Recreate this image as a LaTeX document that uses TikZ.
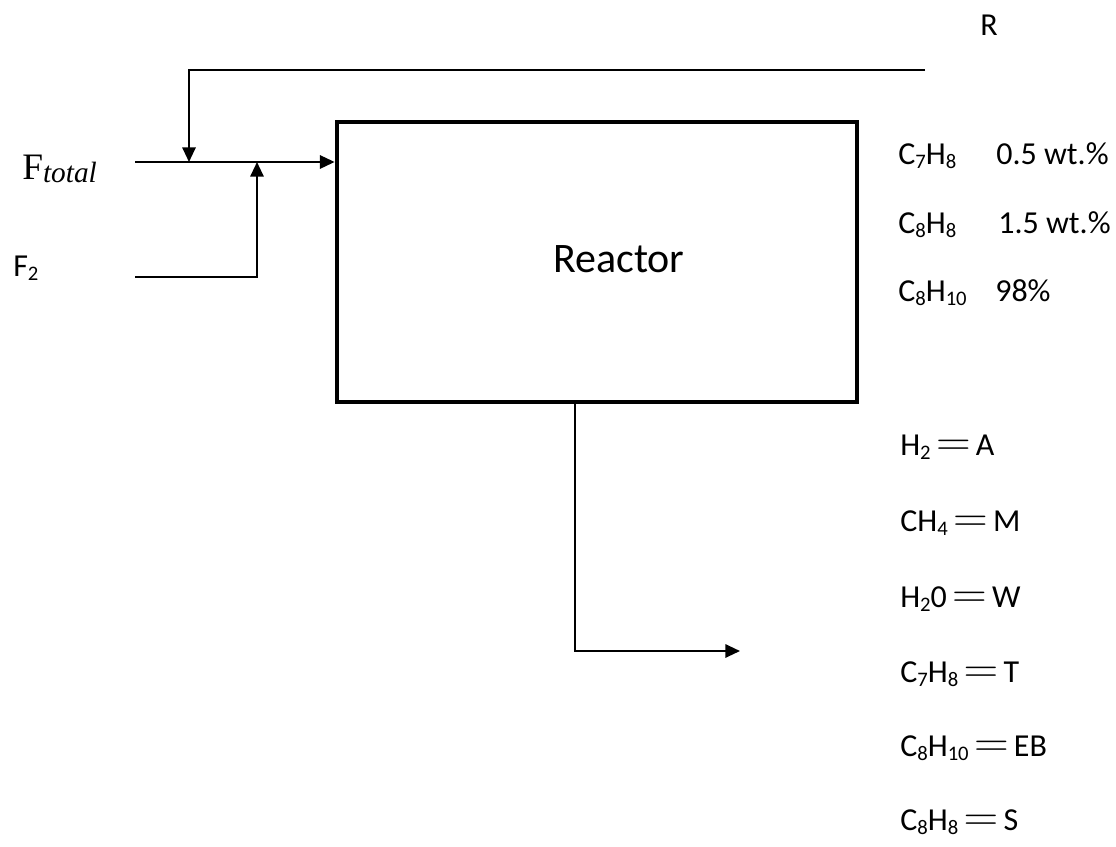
\documentclass[tikz,border=0pt]{standalone}
\usepackage{fontspec}
\setmainfont{Carlito}
\newfontfamily\serifmath{Liberation Serif}
\usepackage{tikz}
\usetikzlibrary{
  arrows.meta,
  positioning,
  calc
}
\definecolor{linecolor}{RGB}{0, 0, 0}
\definecolor{labelcolor}{RGB}{0, 0, 0}
\newcommand{\chs}[1]{\raisebox{-0.3ex}{\fontsize{15.5}{16}\selectfont #1}}
\newcommand{\eqs}{\,\scalebox{1.45}[1.3]{$=$}\,}
\tikzset{
reactorbox/.style={
  draw=linecolor,
  line width=3.6pt,
  minimum width=390pt,
  minimum height=210pt,
  inner sep=0pt
},
streamlabel/.style={
  font=\fontsize{24}{28}\selectfont,
  text=labelcolor,
  anchor=base west,
  inner sep=0pt
},
stream/.style={
  line width=1.5pt,
  draw=linecolor
},
arrow/.style={
  stream,
  -{Triangle[length=11pt,width=10pt]}
}
}

\begin{document}
\begin{tikzpicture}[x=0.75pt, y=-0.75pt]
\useasboundingbox (0,0) rectangle (1116,846);

% ============================================================================
% REACTOR
% ============================================================================
\node[reactorbox] (reactor) at (597,262) {};
\node[streamlabel, font=\fontsize{31.5}{36}\selectfont] (rlabel) at (553,272) {Reactor};

% ============================================================================
% ENTRADAS
% ============================================================================
\coordinate (feedin) at (135,162);
\coordinate (feedmix) at (189,162);
\coordinate (f2mix) at (257,162);
\coordinate (f2in) at (135,277);
\coordinate (recin) at (925,70);

\node[streamlabel, font=\fontsize{28}{32}\selectfont\serifmath] (ftotal) at (22,179)
  {F\raisebox{-0.2ex}{\fontsize{22}{24}\selectfont\itshape total}};
\node[streamlabel] (f2) at (13,276) {F\chs{2}};
\node[streamlabel] (rec) at (980,36) {R};

% ============================================================================
% SAIDA
% ============================================================================
\coordinate (outdown) at (575,651);
\coordinate (outend) at (740,651);

% ============================================================================
% COMPOSICAO
% ============================================================================
\node[streamlabel] (comp1) at (898,164) {C\chs{7}H\chs{8}};
\node[streamlabel] (val1) at (996,164) {0.5 wt.\%};
\node[streamlabel] (comp2) at (898,233) {C\chs{8}H\chs{8}};
\node[streamlabel] (val2) at (998,233) {1.5 wt.\%};
\node[streamlabel] (comp3) at (898,301) {C\chs{8}H\chs{10}};
\node[streamlabel] (val3) at (995,301) {98\%};

\node[streamlabel] (spA) at (900,455) {H\chs{2}\eqs A};
\node[streamlabel] (spM) at (900,531) {CH\chs{4}\eqs M};
\node[streamlabel] (spW) at (900,607) {H\chs{2}0\eqs W};
\node[streamlabel] (spT) at (900,682) {C\chs{7}H\chs{8}\eqs T};
\node[streamlabel] (spEB) at (900,756) {C\chs{8}H\chs{10}\eqs EB};
\node[streamlabel] (spS) at (900,830) {C\chs{8}H\chs{8}\eqs S};

% ============================================================================
% SETAS
% ============================================================================
\draw[arrow] (feedin) -- (reactor.west |- feedin);
\draw[arrow] (recin) -| (feedmix);
\draw[arrow] (f2in) -| (f2mix);
\draw[arrow] (reactor.south -| outdown) -- (outdown) -- (outend);

\end{tikzpicture}
\end{document}
